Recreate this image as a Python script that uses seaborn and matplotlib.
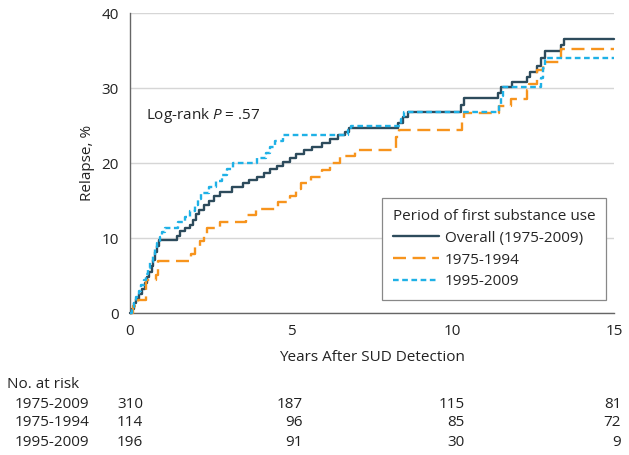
import matplotlib
matplotlib.use("Agg")
import matplotlib.pyplot as plt
import matplotlib.transforms as mtransforms
import pandas as pd
import seaborn as sns

# step points (time in years, cumulative relapse %)
overall_t = [0, 0.06, 0.12, 0.2, 0.28, 0.36, 0.45, 0.52, 0.6, 0.67, 0.72, 0.78, 0.84, 0.9,
             1.45, 1.55, 1.7, 1.85, 1.95, 2.05, 2.15, 2.3, 2.45, 2.6, 2.8, 3.15, 3.5, 3.7,
             3.95, 4.15, 4.35, 4.55, 4.75, 4.95, 5.15, 5.4, 5.65, 5.95, 6.2, 6.45, 6.65,
             6.8, 8.3, 8.45, 8.6, 10.25, 10.35, 11.4, 11.5, 11.85, 12.3, 12.4, 12.6, 12.75,
             12.85, 13.35, 13.45, 15]
overall_v = [0, 0.6, 1.3, 1.9, 2.5, 3.2, 4.0, 4.8, 5.5, 6.3, 7.1, 8.1, 9.0, 9.8,
             10.3, 10.9, 11.4, 11.8, 12.4, 13.2, 13.8, 14.4, 15.0, 15.6, 16.2, 16.8, 17.3, 17.7,
             18.2, 18.7, 19.2, 19.6, 20.2, 20.7, 21.2, 21.7, 22.2, 22.7, 23.2, 23.7, 24.2,
             24.7, 25.4, 26.1, 26.8, 27.8, 28.7, 29.4, 30.1, 30.8, 31.5, 32.2, 33.0, 34.0,
             35.0, 35.8, 36.5, 36.5]

early_t = [0, 0.1, 0.25, 0.5, 0.8, 0.87, 1.9, 2.0, 2.17, 2.3, 2.4, 2.8, 3.6, 3.9, 4.6,
           4.95, 5.15, 5.3, 5.6, 5.95, 6.2, 6.5, 6.97, 8.25, 8.35, 10.3, 10.35, 11.45,
           11.8, 12.3, 12.35, 12.6, 12.8, 13.35, 15]
early_v = [0, 0.9, 1.8, 4.4, 5.1, 7.0, 7.9, 8.8, 9.6, 10.5, 11.3, 12.2, 13.1, 13.9, 14.8,
           15.6, 16.5, 17.3, 18.2, 19.1, 20.0, 20.9, 21.8, 23.5, 24.4, 25.5, 26.7, 27.6,
           28.5, 29.8, 30.6, 32.4, 33.5, 35.2, 35.2]

late_t = [0, 0.06, 0.12, 0.2, 0.28, 0.35, 0.42, 0.5, 0.57, 0.63, 0.7, 0.77, 0.85, 0.92,
          0.98, 1.08, 1.5, 1.7, 1.85, 2.0, 2.1, 2.2, 2.45, 2.65, 2.85, 3.0, 3.2, 3.95, 4.2,
          4.35, 4.5, 4.75, 6.75, 6.85, 8.4, 8.5, 11.45, 11.5, 11.55, 12.75, 12.8, 12.85, 15]
late_v = [0, 0.7, 1.4, 2.2, 2.9, 3.7, 4.4, 5.2, 6.0, 6.8, 7.6, 8.5, 9.3, 10.1,
          10.8, 11.4, 12.1, 12.8, 13.6, 14.4, 15.2, 16.0, 16.8, 17.6, 18.4, 19.2, 20.0, 20.7, 21.4,
          22.2, 22.9, 23.7, 24.4, 25.0, 25.9, 26.8, 27.9, 29.0, 30.1, 31.4, 32.7, 34.0, 34.0]

labels = ["Overall (1975-2009)", "1975-1994", "1995-2009"]
risk_groups = ["1975-2009", "1975-1994", "1995-2009"]
risk_times = [0, 5, 10, 15]
risk_counts = [[310, 187, 115, 81],
               [114, 96, 85, 72],
               [196, 91, 30, 9]]

colors = ["#2d4b5c", "#f7941d", "#1fb1e6"]
styles = ["-", (0, (5.5, 2.8)), (0, (2.4, 1.5))]

sns.set_style("white")
plt.rcParams["font.family"] = ["Open Sans", "DejaVu Sans"]
plt.rcParams["mathtext.fontset"] = "custom"
plt.rcParams["mathtext.rm"] = "Open Sans"
plt.rcParams["mathtext.it"] = "Open Sans:italic"
fs = 11

fig = plt.figure(figsize=(6.29, 4.55), dpi=100)
ax = fig.add_axes([0.2067, 0.312, 0.7695, 0.6594])

series = [(overall_t, overall_v), (early_t, early_v), (late_t, late_v)]
for (t, v), lab, c, ls in zip(series, labels, colors, styles):
    df = pd.DataFrame({"years": t, "relapse": v})
    sns.lineplot(data=df, x="years", y="relapse", ax=ax, color=c, linestyle=ls,
                 linewidth=1.7, drawstyle="steps-post", estimator=None, label=lab,
                 clip_on=False, zorder=3)

ax.set_xlim(0, 15)
ax.set_ylim(0, 40)
ax.set_xticks([0, 5, 10, 15])
ax.set_yticks([0, 10, 20, 30, 40])
ax.yaxis.grid(True, color="#d6d6d6", linewidth=1)
ax.xaxis.grid(False)
for s in ["top", "right"]:
    ax.spines[s].set_visible(False)
for s in ["left", "bottom"]:
    ax.spines[s].set_color("#666666")
    ax.spines[s].set_linewidth(1)
ax.tick_params(axis="both", direction="out", length=5, width=1, color="#666666",
               labelsize=fs, labelcolor="#222222", pad=3)
ax.set_xlabel("Years After SUD Detection", fontsize=fs, color="#222222", labelpad=8)
ax.set_ylabel("Relapse, %", fontsize=fs, color="#222222", labelpad=5)

ax.text(0.5, 26.4, "Log-rank $P$ = .57", fontsize=fs, color="#222222", va="center")

leg = ax.legend(title="Period of first substance use", loc="upper left",
                bbox_to_anchor=(0.5207, 0.383), borderaxespad=0, fontsize=fs,
                title_fontsize=fs, alignment="left", frameon=True, fancybox=False,
                edgecolor="#888888", framealpha=1, handlelength=3.0, handletextpad=0.4,
                labelspacing=0.45, borderpad=0.7)
leg.get_frame().set_linewidth(0.9)

# risk table
fig.text(0.011, 1 - 385 / 455, "No. at risk", fontsize=fs, color="#222222", va="center")
trans = mtransforms.blended_transform_factory(ax.transData, fig.transFigure)
row_y = [404, 423, 442]
offsets = [0.4, 0.36, 0.36, 0.22]
for grp, counts, yp in zip(risk_groups, risk_counts, row_y):
    fig.text(0.024, 1 - yp / 455, grp, fontsize=fs, color="#222222", va="center")
    for tx, n, off in zip(risk_times, counts, offsets):
        ax.text(tx + off, 1 - yp / 455, str(n), transform=trans, fontsize=fs,
                color="#222222", ha="right", va="center", clip_on=False)

fig.savefig("out.png", dpi=100)
